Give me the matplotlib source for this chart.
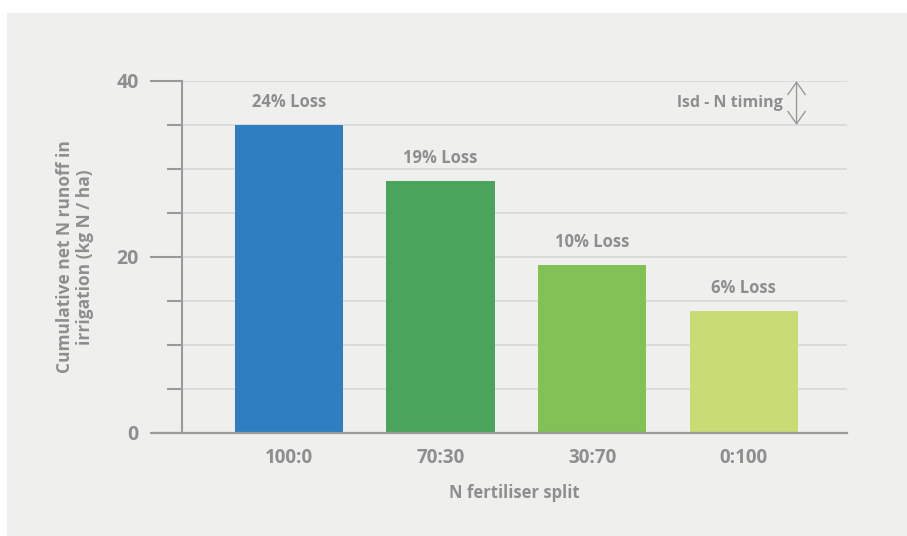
import numpy as np
import matplotlib.pyplot as plt
from matplotlib.patches import Rectangle
from matplotlib.lines import Line2D

# data
splits = ["100:0", "70:30", "30:70", "0:100"]
runoff = [35.0, 28.6, 19.1, 13.9]
loss_labels = ["24% Loss", "19% Loss", "10% Loss", "6% Loss"]
bar_colors = ["#2E7EC1", "#4BA45C", "#82C155", "#C8DC76"]
lsd_range = [35.0, 40.0]

TXT = "#8E8E8E"
plt.rcParams["font.family"] = ["Open Sans", "DejaVu Sans"]
plt.rcParams["font.weight"] = "bold"

fig = plt.figure(figsize=(9.07, 5.36), dpi=100, facecolor="white")
W, H = 907, 536
fig.add_artist(Rectangle((7 / W, 0), 1 - 7 / W, 1 - 13 / H,
                         transform=fig.transFigure, color="#EFF0EE", zorder=-5))

ax = fig.add_axes([182 / W, 1 - 433 / H, (847 - 182) / W, (433 - 81) / H])
ax.set_facecolor("none")

x = np.arange(len(splits))
ax.bar(x, runoff, width=0.713, color=bar_colors, zorder=3)
for xi, v, lab in zip(x, runoff, loss_labels):
    ax.text(xi, v + 2.6, lab, ha="center", va="center", color=TXT,
            fontsize=12, fontweight="bold")

ax.set_xlim(-0.706, 3.683)
ax.set_ylim(0, 40)

# gridlines every 5
for g in range(5, 45, 5):
    ax.axhline(g, color="#D6D7D8", lw=1.2, zorder=1)

for s in ["top", "right", "bottom"]:
    ax.spines[s].set_visible(False)
ax.spines["left"].set_color("#9A9A9A")
ax.spines["left"].set_linewidth(1.5)

# bottom axis line extends to the left of the spine
ax.add_line(Line2D([-30 / 665, 1], [0, 0], transform=ax.transAxes,
                   color="#9A9A9A", lw=1.6, clip_on=False, zorder=4))

ax.set_yticks([0, 20, 40])
ax.set_yticks(range(5, 40, 5), minor=True)
ax.tick_params(axis="y", which="major", length=23, width=1.5, color="#9A9A9A",
               labelsize=14, labelcolor=TXT, pad=8)
ax.tick_params(axis="y", which="minor", length=11, width=1.5, color="#9A9A9A")

ax.set_xticks(x)
ax.set_xticklabels(splits)
ax.tick_params(axis="x", length=0, labelsize=13.5, labelcolor=TXT, pad=11)
for t in ax.get_xticklabels() + ax.get_yticklabels():
    t.set_fontweight("bold")

ax.set_xlabel("N fertiliser split", color=TXT, fontsize=12,
              fontweight="bold", labelpad=11)
ax.set_ylabel("Cumulative net N runoff in\nirrigation (kg N / ha)", color=TXT,
              fontsize=12.5, fontweight="bold", labelpad=16, linespacing=1.2)

# lsd annotation
ax.annotate("", xy=(3.35, lsd_range[1]), xytext=(3.35, lsd_range[0]),
            arrowprops=dict(arrowstyle="<->, head_width=0.35, head_length=0.5",
                            color="#9A9A9A", lw=1.0,
                            shrinkA=0, shrinkB=0, mutation_scale=18),
            zorder=5)
ax.text(3.26, np.mean(lsd_range), "lsd - N timing", ha="right", va="center",
        color=TXT, fontsize=11.5, fontweight="bold")

fig.savefig("out.png", dpi=100, facecolor="white")
